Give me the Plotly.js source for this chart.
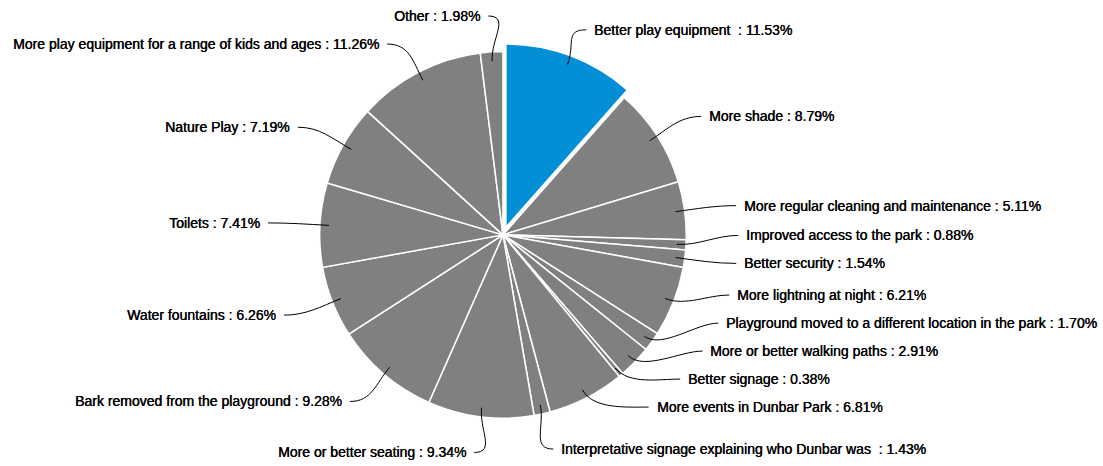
<!DOCTYPE html>
<html><head><meta charset="utf-8">
<script src="https://cdn.plot.ly/plotly-3.0.1.min.js"></script>
<style>html,body{margin:0;padding:0;background:#fff}#chart{width:1103px;height:466px}</style>
</head><body><div id="chart"></div>
<script>
const categories = [
  "Better play equipment ",
  "More shade",
  "More regular cleaning and maintenance",
  "Improved access to the park",
  "Better security",
  "More lightning at night",
  "Playground moved to a different location in the park",
  "More or better walking paths",
  "Better signage",
  "More events in Dunbar Park",
  "Interpretative signage explaining who Dunbar was ",
  "More or better seating",
  "Bark removed from the playground",
  "Water fountains",
  "Toilets",
  "Nature Play",
  "More play equipment for a range of kids and ages",
  "Other"
];
const percentages = [11.53, 8.79, 5.11, 0.88, 1.54, 6.21, 1.70, 2.91, 0.38, 6.81, 1.43, 9.34, 9.28, 6.26, 7.41, 7.19, 11.26, 1.98];
const highlighted = "Better play equipment ";

// ---- geometry / style settings ----
const W = 1103, H = 466;
const domX = [0.156, 0.756], domY = [0.085, 0.907];
const FONT = "Liberation Sans, Arial, sans-serif";
const colors = categories.map(c => c === highlighted ? "#038fd6" : "#808080");
const pulls = categories.map(c => c === highlighted ? 0.045 : 0);
const maxPull = Math.max(...pulls);

const cx = (domX[0] + domX[1]) / 2 * W;
const cy = (1 - (domY[0] + domY[1]) / 2) * H;
const r = Math.min((domX[1] - domX[0]) * W, (domY[1] - domY[0]) * H) / (2 * (1 + maxPull));
const RA = r + 52;         // horizontal label radius
const RB = r + 36;         // vertical label radius
const SP = 28;             // min vertical spacing between labels
const FIRST_GAP = 42;      // spacing above the lowest label
const TOP = 14, BOTTOM = 455;

const total = percentages.reduce((a, b) => a + b, 0);
let cum = 0;
const items = percentages.map((v, i) => {
  const mid = (cum + v / 2) / total; cum += v;
  const th = mid * 2 * Math.PI;
  const s = Math.sin(th), c = Math.cos(th);
  const ox = cx + pulls[i] * r * s, oy = cy - pulls[i] * r * c;
  return {i, th, s, c, ex: ox + r * 0.95 * s, ey: oy - r * 0.95 * c,
          side: s >= 0 ? 1 : -1, y: cy - RB * c};
});

function arrange(list) {
  const upper = list.filter(o => o.y <= cy), lower = list.filter(o => o.y > cy);
  upper.sort((a, b) => a.y - b.y);
  for (let k = 0; k < upper.length; k++) {
    if (k === 0) upper[k].y = Math.max(upper[k].y, TOP);
    else upper[k].y = Math.max(upper[k].y, upper[k - 1].y + SP);
  }
  lower.sort((a, b) => b.y - a.y);
  for (let k = 0; k < lower.length; k++) {
    if (k === 0) lower[k].y = Math.min(lower[k].y, BOTTOM);
    else lower[k].y = Math.min(lower[k].y, lower[k - 1].y - (k === 1 ? FIRST_GAP : SP));
  }
  const all = upper.concat(lower.reverse());
  for (let k = 1; k < all.length; k++) {
    if (all[k].y < all[k - 1].y + SP) all[k].y = all[k - 1].y + SP;
  }
}
arrange(items.filter(o => o.side > 0));
arrange(items.filter(o => o.side < 0));

items.forEach(o => {
  const t = Math.min(Math.abs(o.y - cy) / RB, 1);
  o.x = cx + o.side * RA * Math.sqrt(1 - t * t);
});

const px = x => x / W, py = y => 1 - y / H;
const shapes = [], annotations = [];
items.forEach(o => {
  const c1x = o.ex + 22 * o.s, c1y = o.ey - 22 * o.c;
  const c2x = o.x - o.side * 22, c2y = o.y;
  shapes.push({
    type: "path", xref: "paper", yref: "paper",
    path: `M ${px(o.ex)} ${py(o.ey)} C ${px(c1x)} ${py(c1y)}, ${px(c2x)} ${py(c2y)}, ${px(o.x)} ${py(o.y)}`,
    line: {color: "#000000", width: 1}
  });
  annotations.push({
    xref: "paper", yref: "paper", x: px(o.x + o.side * 6), y: py(o.y),
    xanchor: o.side > 0 ? "left" : "right", yanchor: "middle",
    text: categories[o.i].replace(/ $/, "&nbsp;") + " : " + percentages[o.i].toFixed(2) + "%",
    showarrow: false,
    font: {family: FONT, size: 14, color: "#000000", shadow: "0.4px 0 0 #000000"}
  });
});

Plotly.newPlot("chart", [{
  type: "pie",
  labels: categories,
  values: percentages,
  sort: false,
  direction: "clockwise",
  rotation: 0,
  pull: pulls,
  marker: {colors: colors, line: {color: "#ffffff", width: 1.5}},
  textinfo: "none",
  hoverinfo: "label+value",
  domain: {x: domX, y: domY},
  automargin: false
}], {
  width: W, height: H,
  margin: {l: 0, r: 0, t: 0, b: 0},
  showlegend: false,
  paper_bgcolor: "#ffffff",
  font: {family: FONT, color: "#000000"},
  shapes: shapes,
  annotations: annotations
}, {displayModeBar: false, staticPlot: true});
</script></body></html>
